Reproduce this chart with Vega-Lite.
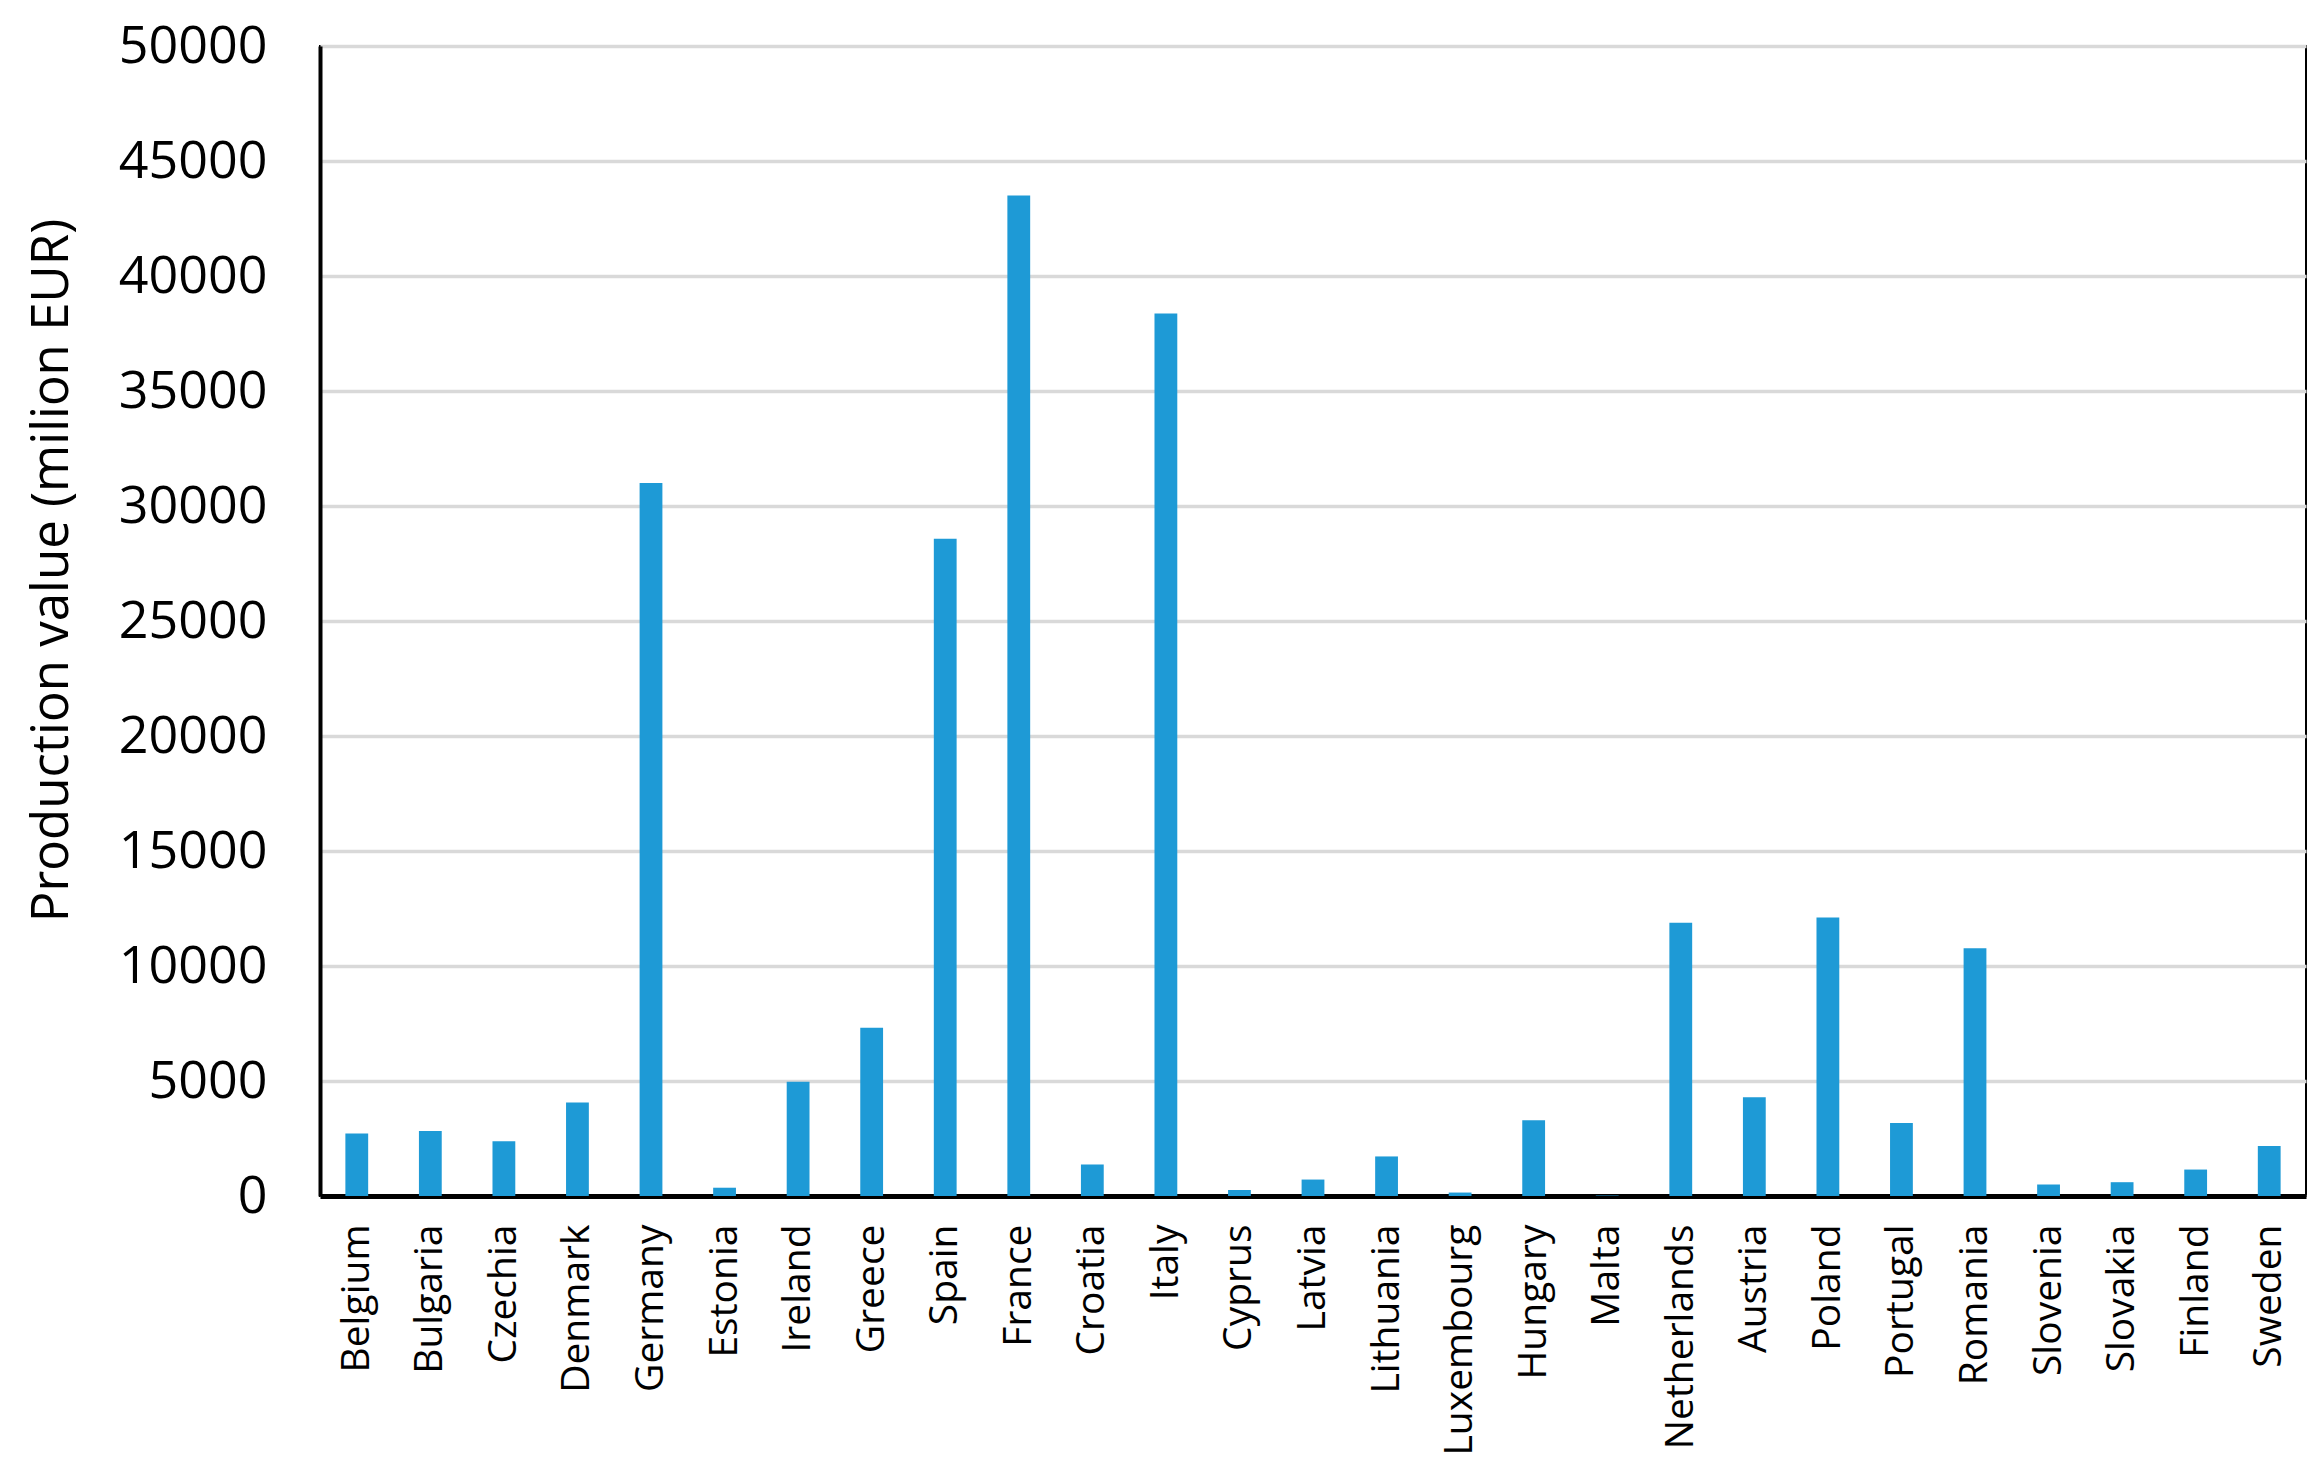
{
  "$schema": "https://vega.github.io/schema/vega-lite/v6.json",
  "autosize": {"type": "none"},
  "padding": {"left": 320, "top": 46, "right": 17, "bottom": 276},
  "width": 1986,
  "height": 1150,
  "background": "white",
  "config": {
    "font": "Open Sans",
    "view": {"stroke": "black", "strokeWidth": 2}
  },
  "data": {
    "values": [
      {"country": "Belgium", "value": 2720},
      {"country": "Bulgaria", "value": 2830},
      {"country": "Czechia", "value": 2380},
      {"country": "Denmark", "value": 4070},
      {"country": "Germany", "value": 31000},
      {"country": "Estonia", "value": 360},
      {"country": "Ireland", "value": 4970},
      {"country": "Greece", "value": 7320},
      {"country": "Spain", "value": 28580},
      {"country": "France", "value": 43500},
      {"country": "Croatia", "value": 1370},
      {"country": "Italy", "value": 38370},
      {"country": "Cyprus", "value": 260},
      {"country": "Latvia", "value": 715},
      {"country": "Lithuania", "value": 1720},
      {"country": "Luxembourg", "value": 150},
      {"country": "Hungary", "value": 3290},
      {"country": "Malta", "value": 20},
      {"country": "Netherlands", "value": 11880},
      {"country": "Austria", "value": 4290},
      {"country": "Poland", "value": 12110},
      {"country": "Portugal", "value": 3170},
      {"country": "Romania", "value": 10775},
      {"country": "Slovenia", "value": 500},
      {"country": "Slovakia", "value": 600},
      {"country": "Finland", "value": 1150},
      {"country": "Sweden", "value": 2170}
    ]
  },
  "mark": {"type": "bar", "color": "#1e9ad6"},
  "encoding": {
    "x": {
      "field": "country",
      "type": "nominal",
      "sort": null,
      "scale": {"paddingInner": 0.69, "paddingOuter": 0.345},
      "axis": {
        "title": null,
        "labelAngle": -90,
        "labelFontSize": 39,
        "labelLimit": 500,
        "labelColor": "black",
        "labelPadding": 28,
        "labelAlign": "right",
        "labelBaseline": "middle",
        "ticks": false,
        "domainColor": "black",
        "domainWidth": 5
      }
    },
    "y": {
      "field": "value",
      "type": "quantitative",
      "scale": {"domain": [0, 50000], "nice": false},
      "axis": {
        "title": "Production value (milion EUR)",
        "titleFontSize": 51,
        "titleFontWeight": "normal",
        "titleColor": "black",
        "titleAngle": -90,
        "titleX": -268,
        "titleY": 524,
        "titleAlign": "center",
        "titleBaseline": "middle",
        "values": [0, 5000, 10000, 15000, 20000, 25000, 30000, 35000, 40000, 45000, 50000],
        "format": "d",
        "labelFontSize": 52,
        "labelColor": "black",
        "labelPadding": 53,
        "ticks": false,
        "domainColor": "black",
        "domainWidth": 4,
        "gridColor": "#d9d9d9",
        "gridWidth": 3.5
      }
    }
  }
}
